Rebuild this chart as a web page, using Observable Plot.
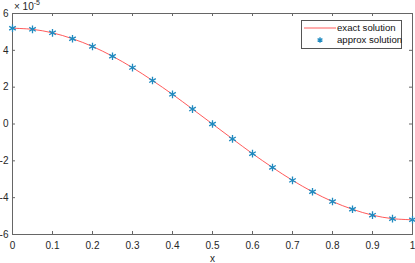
<!DOCTYPE html>
<html>
<head>
<meta charset="utf-8">
<script src="https://cdn.jsdelivr.net/npm/d3@7"></script>
<script src="https://cdn.jsdelivr.net/npm/@observablehq/plot@0.6"></script>
<style>
  body { margin: 0; background: #fff; }
  #wrap { position: relative; width: 415px; height: 263px; font-family: "Liberation Sans", Arial, sans-serif; }
  #expo { position: absolute; left: 14px; top: 0px; font-size: 10px; color: #262626; }
  #expo sup { font-size: 7px; position: relative; top: -1px; }
  #legend { position: absolute; left: 301px; top: 20px; width: 99px; height: 27px; border: 1px solid #555; background: #fff; font-size: 9.6px; color: #111; }
  .row { position: absolute; left: 0; height: 12px; width: 99px; }
  .lab { position: absolute; left: 35px; top: 0; line-height: 12px; white-space: nowrap; }
</style>
</head>
<body>
<div id="wrap">
  <div id="chart"></div>
  <div id="expo">× 10<sup>-5</sup></div>
  <div id="legend">
    <div class="row" style="top:1px"><svg width="34" height="12" style="position:absolute;left:1px;top:0"><line x1="1" x2="33" y1="6" y2="6" stroke="#ff3030" stroke-width="0.8"/></svg><span class="lab">exact solution</span></div>
    <div class="row" style="top:13px"><svg id="legsym" width="34" height="12" style="position:absolute;left:1px;top:0"></svg><span class="lab">approx solution</span></div>
  </div>
</div>
<script>
const xValues = [0, 0.05, 0.1, 0.15, 0.2, 0.25, 0.3, 0.35, 0.4, 0.45, 0.5, 0.55, 0.6, 0.65, 0.7, 0.75, 0.8, 0.85, 0.9, 0.95, 1];
const exactValues = [5.2, 5.14, 4.95, 4.63, 4.21, 3.68, 3.06, 2.36, 1.61, 0.81, 0, -0.81, -1.61, -2.36, -3.06, -3.68, -4.21, -4.63, -4.95, -5.14, -5.2];
const approxValues = [5.2, 5.14, 4.95, 4.63, 4.21, 3.68, 3.06, 2.36, 1.61, 0.81, 0, -0.81, -1.61, -2.36, -3.06, -3.68, -4.21, -4.63, -4.95, -5.14, -5.2];
const xTicks = [0, 0.1, 0.2, 0.3, 0.4, 0.5, 0.6, 0.7, 0.8, 0.9, 1];
const yTicks = [-6, -4, -2, 0, 2, 4, 6];
const xLabel = "x";

const exact = xValues.map((x, i) => ({x, y: exactValues[i]}));
const approx = xValues.map((x, i) => ({x, y: approxValues[i]}));

const W = 415, H = 263, mL = 12, mR = 3, mT = 13, mB = 29;
const pw = W - mL - mR, ph = H - mT - mB;
const axisColor = "#666";
const markerColor = "#1f8ac0";

const chart = Plot.plot({
  width: W, height: H,
  marginLeft: mL, marginRight: mR, marginTop: mT, marginBottom: mB,
  style: {fontFamily: "Liberation Sans, Arial, sans-serif", fontSize: "10px", color: "#262626", background: "#fff"},
  x: {domain: [0, 1]},
  y: {domain: [-6, 6]},
  marks: [
    Plot.frame({stroke: axisColor}),
    Plot.tickX(xTicks, {x: d => d, insetTop: ph - 3, stroke: axisColor}),
    Plot.tickX(xTicks, {x: d => d, insetBottom: ph - 3, stroke: axisColor}),
    Plot.tickY(yTicks, {y: d => d, insetRight: pw - 3, stroke: axisColor}),
    Plot.tickY(yTicks, {y: d => d, insetLeft: pw - 3, stroke: axisColor}),
    Plot.axisX({ticks: xTicks, tickSize: 0, tickPadding: 7, label: null, tickFormat: d => String(d), fill: "#262626"}),
    Plot.axisY({ticks: yTicks, tickSize: 0, tickPadding: 4, label: null, tickFormat: d => String(d), fill: "#262626"}),
    Plot.text([xLabel], {text: d => d, frameAnchor: "bottom", dy: 27, fill: "#262626", fontSize: 10}),
    Plot.line(exact, {x: "x", y: "y", stroke: "#ff3030", strokeWidth: 0.8, curve: "catmull-rom"}),
    Plot.dot(approx, {x: "x", y: "y", symbol: "asterisk", r: 3.6, stroke: markerColor, strokeWidth: 1.3})
  ]
});
document.getElementById("chart").appendChild(chart);

// legend symbol
const s = d3.select("#legsym");
s.append("path").attr("d", d3.symbol(d3.symbolAsterisk, 2.6 * 2.6 * Math.PI)()).attr("transform", "translate(17,6)").attr("stroke", markerColor).attr("stroke-width", 1.3).attr("fill", "none");
</script>
</body>
</html>
